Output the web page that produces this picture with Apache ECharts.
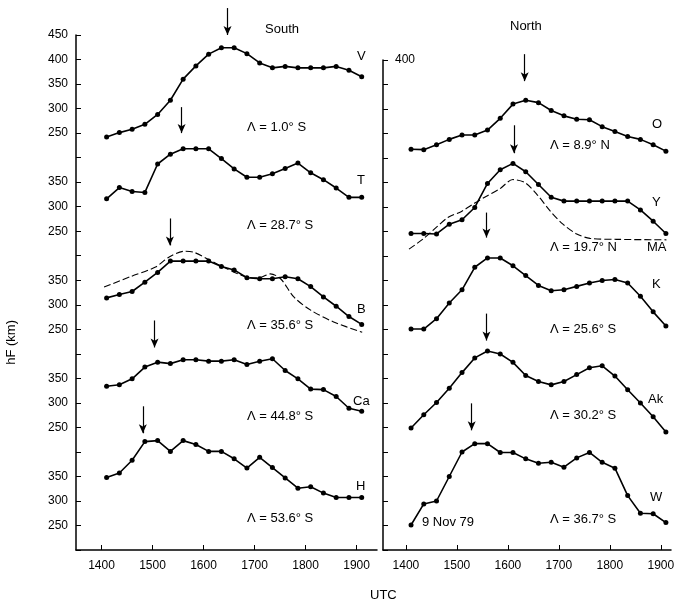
<!DOCTYPE html>
<html>
<head>
<meta charset="utf-8">
<script src="https://cdn.jsdelivr.net/npm/echarts@6/dist/echarts.min.js"></script>
<style>
html,body{margin:0;padding:0;background:#fff;}
#chart{width:690px;height:612px;}
</style>
</head>
<body>
<div id="chart"></div>
<script>
// sample times (UTC)
var times = [1410,1435,1460,1485,1510,1535,1560,1585,1610,1635,1660,1685,1710,1735,1760,1785,1810,1835,1860,1885,1910];

// South stations, hF (km)
var hV  = [242,251,258,268,288,317,360,387,411,424,424,412,393,383,386,383,383,383,386,378,365];
var hT  = [316,339,331,329,387,407,418,418,418,398,377,360,360,367,378,389,369,355,338,319,319];
var hB  = [314,321,327,346,366,389,389,389,389,378,371,355,353,353,357,353,337,316,297,276,260];
var hCa = [334,337,349,373,383,380,388,388,385,385,388,378,385,390,366,349,328,327,313,289,283];
var hH  = [348,357,383,421,423,401,423,415,401,401,386,367,389,368,347,326,329,316,307,307,307];
// model curve at B
var modelBT = [1405,1456,1506,1532,1562,1581,1607,1633,1683,1708,1731,1751,1777,1810,1855,1911];
var modelBH = [336,357,377,397,409,407,394,380,357,355,363,353,316,289,265,244];

// North stations
var hO  = [218,217,227,238,247,247,257,281,310,318,313,297,286,279,278,264,254,244,238,227,214];
var hY  = [246,246,245,265,274,299,348,376,389,372,346,320,312,312,312,312,312,312,294,271,246];
var hK  = [251,251,272,304,331,377,396,396,380,360,340,329,331,338,345,350,352,345,318,286,257];
var hAk = [249,276,301,330,362,392,406,400,383,356,344,337,344,358,372,376,355,327,300,272,241];
var hW  = [251,294,300,350,400,417,417,399,399,386,377,379,369,388,399,379,367,311,275,274,256];
// model curve MA
var modelMAT = [1406,1434,1460,1483,1509,1535,1558,1584,1610,1633,1656,1682,1708,1735,1761,1813,1911];
var modelMAH = [214,235,259,279,291,308,322,337,356,350,327,293,265,245,236,234,233];

// arrows: time, tail hF, head hF, offset
var arrowsS = [[1647,505,450,0],[1557,503,450,200],[1534,476,421,400],[1504,468,413,600],[1481,493,438,800]];
var arrowsN = [[1633,411,356,0],[1612,466,409,200],[1558,488,437,400],[1558,482,427,600],[1529,499,444,800]];

var leftTicks = [450,400,350,300,250,150,100,50,-50,-100,-150,-250,-300,-350,-450,-500,-550];
var xTicks = [1400,1500,1600,1700,1800,1900];

function pts(ts, vals, off){
  var out = [];
  for (var i=0;i<vals.length;i++) out.push([ts[i], vals[i]-off]);
  return out;
}
function station(name, vals, off, g){
  return {
    name:name, type:'line', xAxisIndex:g, yAxisIndex:g,
    data:pts(times, vals, off), symbol:'circle', symbolSize:5,
    itemStyle:{color:'#000'}, lineStyle:{color:'#000', width:1.6}
  };
}
function model(name, ts, vals, off, g){
  return {
    name:name, type:'line', xAxisIndex:g, yAxisIndex:g, smooth:0.3,
    data:pts(ts, vals, off), symbol:'none',
    lineStyle:{color:'#000', width:1.1, type:[7,3]}
  };
}
function arrowSeries(list, g){
  var d = [];
  for (var i=0;i<list.length;i++){
    var a = list[i];
    d.push([{coord:[a[0], a[1]-a[3]]},{coord:[a[0], a[2]-a[3]]}]);
  }
  return {
    type:'scatter', xAxisIndex:g, yAxisIndex:g, data:[], silent:true,
    markLine:{silent:true, symbol:['none','arrow'], symbolSize:[6,9], animation:false,
      label:{show:false}, lineStyle:{color:'#000', width:1.2, type:'solid'}, data:d}
  };
}

var font = 'Liberation Sans, Arial, sans-serif';
function txt(x, y, s, align){
  return {type:'text', left:x, top:y, style:{text:s, font:'13px '+font, fill:'#000', textAlign:align||'left'}};
}
function xAx(g, mn, mx){
  return {gridIndex:g, type:'value', min:mn, max:mx,
    axisLine:{onZero:false, lineStyle:{color:'#000', width:1.5}},
    axisTick:{inside:true, length:5, customValues:xTicks, lineStyle:{color:'#000'}},
    axisLabel:{customValues:xTicks, color:'#000', fontSize:12, fontFamily:font, margin:10,
      formatter:function(v){ return String(v); }},
    splitLine:{show:false}};
}
function hiddenX(g, mn, mx){ return {gridIndex:g, type:'value', min:mn, max:mx, show:false}; }
function hiddenY(g){ return {gridIndex:g, type:'value', min:-600, max:510, show:false}; }

var myChart = echarts.init(document.getElementById('chart'));
myChart.setOption({
  animation:false,
  grid:[
    {left:76, top:35, width:301, height:515},
    {left:383, top:60, width:288, height:490},
    {left:76, top:5.6, width:301, height:544.4},
    {left:383, top:5.6, width:288, height:544.4}
  ],
  xAxis:[xAx(0,1350,1940), xAx(1,1355,1920), hiddenX(2,1350,1940), hiddenX(3,1355,1920)],
  yAxis:[
    {gridIndex:0, type:'value', min:-600, max:450, interval:50,
     axisLine:{show:true, onZero:false, lineStyle:{color:'#000', width:1.5}},
     axisTick:{inside:true, length:5, lineStyle:{color:'#000'}},
     axisLabel:{customValues:leftTicks, color:'#000', fontSize:12, fontFamily:font, margin:8,
       formatter:function(v){ return String(v >= 250 ? v : v + 200*Math.ceil((250-v)/200)); }},
     splitLine:{show:false}},
    {gridIndex:1, type:'value', min:-600, max:400, interval:50,
     axisLine:{show:true, onZero:false, lineStyle:{color:'#000', width:1.5}},
     axisTick:{inside:true, length:5, lineStyle:{color:'#000'}},
     axisLabel:{customValues:[400], inside:true, color:'#000', fontSize:12, fontFamily:font, margin:12},
     splitLine:{show:false}},
    hiddenY(2), hiddenY(3)
  ],
  series:[
    station('V', hV, 0, 0),
    station('T', hT, 200, 0),
    model('Bmodel', modelBT, modelBH, 400, 0),
    station('B', hB, 400, 0),
    station('Ca', hCa, 600, 0),
    station('H', hH, 800, 0),
    station('O', hO, 0, 1),
    model('MA', modelMAT, modelMAH, 200, 1),
    station('Y', hY, 200, 1),
    station('K', hK, 400, 1),
    station('Ak', hAk, 600, 1),
    station('W', hW, 800, 1),
    arrowSeries(arrowsS, 2),
    arrowSeries(arrowsN, 3)
  ],
  graphic:[
    txt(265, 23, 'South', 'center'), txt(510, 20, 'North', 'center'),
    txt(357, 50, 'V'), txt(357, 174, 'T'), txt(357, 303, 'B'), txt(353, 395, 'Ca'), txt(356, 480, 'H'),
    txt(247, 121, 'Λ = 1.0° S'), txt(247, 219, 'Λ = 28.7° S'), txt(247, 319, 'Λ = 35.6° S'),
    txt(247, 410, 'Λ = 44.8° S'), txt(247, 512, 'Λ = 53.6° S'),
    txt(652, 118, 'O'), txt(652, 196, 'Y'), txt(647, 241, 'MA'), txt(652, 278, 'K'),
    txt(648, 393, 'Ak'), txt(650, 491, 'W'),
    txt(550, 139, 'Λ = 8.9° N'), txt(550, 241, 'Λ = 19.7° N'), txt(550, 323, 'Λ = 25.6° S'),
    txt(550, 409, 'Λ = 30.2° S'), txt(550, 513, 'Λ = 36.7° S'), txt(422, 516, '9 Nov 79'),
    txt(370, 589, 'UTC', 'center'),
    {type:'text', left:5, top:320, rotation:Math.PI/2,
     style:{text:'hF (km)', font:'13px '+font, fill:'#000', textAlign:'center'}}
  ]
});
</script>
</body>
</html>
